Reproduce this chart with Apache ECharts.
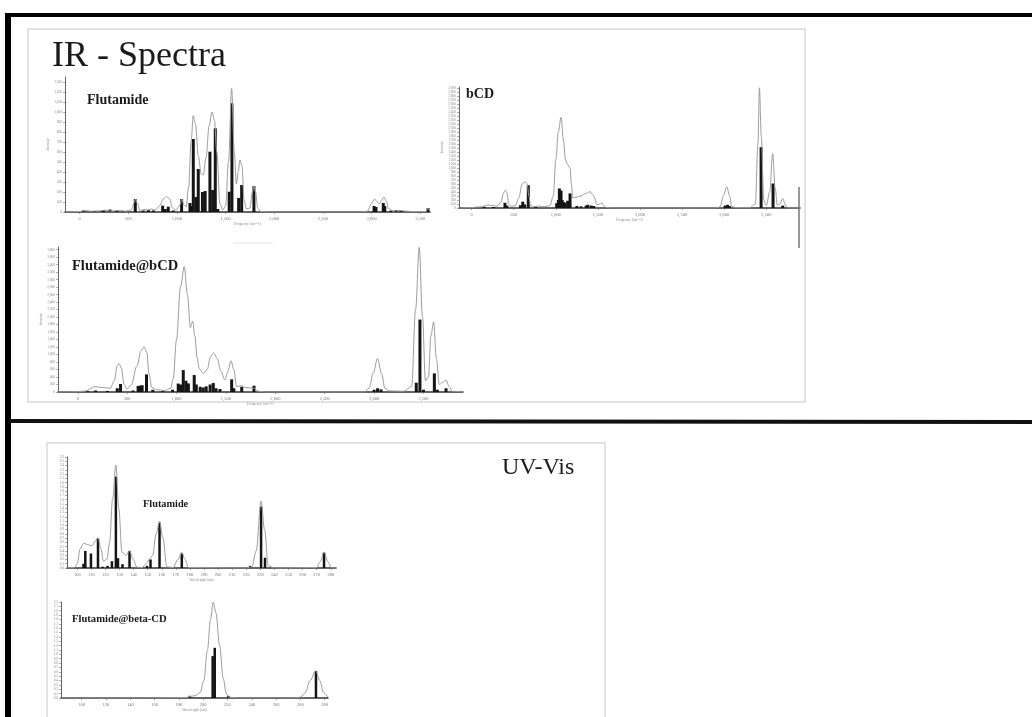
<!DOCTYPE html>
<html><head><meta charset="utf-8">
<script src="https://cdn.jsdelivr.net/npm/echarts@6/dist/echarts.min.js"></script>
<style>html,body{margin:0;padding:0;background:#fff;}#c{width:1032px;height:717px;}</style>
</head><body><div id="c"></div>
<script>
// ---------- tick labels ----------
const irXTicks = [0, 500, 1000, 1500, 2000, 2500, 3000, 3500];
const irXTickLabels = ['0', '500', '1,000', '1,500', '2,000', '2,500', '3,000', '3,500'];
const irFluYTicks = [0,100,200,300,400,500,600,700,800,900,1000,1100,1200,1300];
const bcdYTicks = [0,100,200,300,400,500,600,700,800,900,1000,1100,1200,1300,1400,1500,1600,1700,1800,1900,2000,2100,2200,2300,2400,2500,2600,2700,2800,2900,3000];
const fbYTicks = [0,200,400,600,800,1000,1200,1400,1600,1800,2000,2200,2400,2600,2800,3000,3200,3400,3600,3800];
const uvFluXTicks = [100,110,120,130,140,150,160,170,180,190,200,210,220,230,240,250,260,270,280];
const uvFluYTicks = [0,0.1,0.2,0.3,0.4,0.5,0.6,0.7,0.8,0.9,1,1.1,1.2,1.3,1.4,1.5,1.6,1.7,1.8,1.9,2,2.1,2.2,2.3,2.4,2.5,2.6];
const uvFbXTicks = [100,120,140,160,180,200,220,240,260,280,300];
const uvFbYTicks = [0,0.1,0.2,0.3,0.4,0.5,0.6,0.7,0.8,0.9,1,1.1,1.2,1.3,1.4,1.5,1.6,1.7,1.8,1.9,2,2.1,2.2];

// ---------- IR: Flutamide ----------
const irFluCurve = [[-150,0],[0,5],[60,15],[120,8],[200,12],[260,18],[320,10],[400,15],[470,8],[530,20],[560,90],[575,130],[592,90],[620,15],[660,25],[700,20],[740,30],[780,20],[820,60],[860,130],[895,155],[925,130],[955,40],[990,20],[1030,70],[1050,130],[1072,70],[1095,50],[1120,250],[1145,700],[1168,965],[1190,880],[1220,560],[1250,380],[1271,370],[1300,550],[1330,860],[1360,1000],[1385,920],[1410,600],[1442,80],[1470,20],[1500,60],[1530,500],[1562,1235],[1590,600],[1610,280],[1630,400],[1647,520],[1668,460],[1690,120],[1715,30],[1750,40],[1775,200],[1790,260],[1808,200],[1830,40],[1860,5],[1950,0],[2900,0],[2960,10],[2995,80],[3030,130],[3060,100],[3080,80],[3100,110],[3127,150],[3150,110],[3175,30],[3220,10],[3300,15],[3400,5],[3560,5],[3580,40],[3600,5]];
const irFluBars = [[40,15],[150,10],[243,20],[312,25],[381,15],[450,10],[572,130],[654,15],[706,20],[757,15],[853,63],[880,30],[911,53],[962,15],[1048,130],[1134,90],[1150,60],[1168,730],[1195,150],[1219,430],[1262,200],[1290,210],[1339,603],[1367,220],[1394,837],[1420,30],[1537,203],[1565,1087],[1634,140],[1665,270],[1791,260],[3025,60],[3045,50],[3120,90],[3135,60],[3200,15],[3250,20],[3300,10],[3580,40]];

// ---------- IR: bCD ----------
const bcdCurve = [[-150,0],[0,10],[100,30],[200,75],[260,60],[300,40],[350,150],[380,380],[400,446],[420,380],[440,100],[470,40],[520,60],[560,250],[600,600],[634,653],[660,600],[680,300],[700,60],[740,30],[800,50],[860,30],[930,60],[970,300],[1000,1200],[1030,1900],[1062,2265],[1090,1700],[1115,1200],[1140,1080],[1169,1000],[1185,600],[1200,250],[1240,270],[1300,300],[1350,360],[1406,405],[1450,300],[1490,80],[1520,100],[1545,130],[1570,60],[1600,10],[1700,0],[2900,0],[2950,30],[2990,300],[3030,530],[3065,300],[3090,40],[3130,10],[3300,5],[3370,100],[3400,1600],[3418,3000],[3440,1800],[3470,200],[3500,60],[3540,400],[3576,1356],[3605,500],[3630,80],[3660,100],[3695,240],[3725,80],[3760,0],[3900,0]];
const bcdBars = [[50,20],[150,30],[260,25],[396,130],[420,60],[580,70],[607,157],[630,90],[673,570],[760,30],[1010,120],[1030,200],[1042,488],[1055,300],[1062,435],[1075,200],[1090,150],[1110,130],[1140,180],[1169,364],[1250,50],[1300,40],[1360,60],[1380,80],[1420,60],[1450,50],[3010,60],[3040,80],[3060,50],[3438,1520],[3580,612],[3695,60]];

// ---------- IR: Flutamide@bCD ----------
const fbCurve = [[-200,0],[0,5],[80,30],[172,141],[250,120],[330,100],[370,300],[400,700],[419,760],[440,650],[470,200],[500,80],[540,180],[600,700],[640,1100],[672,1205],[700,1050],[720,500],[750,120],[800,60],[880,40],[940,100],[966,350],[1000,1400],[1040,2800],[1078,3350],[1110,2600],[1140,1720],[1163,1890],[1185,1500],[1210,900],[1230,620],[1270,500],[1310,600],[1345,950],[1375,1045],[1410,900],[1450,550],[1490,320],[1520,550],[1551,833],[1580,600],[1609,141],[1650,170],[1700,120],[1780,100],[1830,20],[1900,0],[2900,0],[2950,100],[2990,500],[3035,894],[3075,500],[3110,100],[3150,30],[3300,20],[3380,150],[3420,2200],[3457,3860],[3490,2000],[3520,300],[3550,400],[3575,1500],[3603,1870],[3630,900],[3660,200],[3690,250],[3728,320],[3760,150],[3790,20],[3900,0]];
const fbBars = [[100,20],[180,40],[300,30],[400,100],[433,213],[560,40],[611,160],[632,170],[652,180],[696,470],[760,60],[860,30],[960,60],[1017,226],[1040,200],[1068,585],[1095,300],[1120,230],[1179,452],[1200,200],[1240,140],[1270,120],[1300,150],[1340,200],[1372,239],[1400,100],[1440,80],[1558,338],[1580,100],[1660,140],[1784,168],[3000,60],[3035,100],[3070,70],[3427,248],[3464,1934],[3500,60],[3610,497],[3640,60],[3728,100]];

// ---------- UV: Flutamide ----------
const uvFluCurve = [[92.7,0],[98,0.01],[100,0.1],[102,0.45],[104.5,0.58],[107,0.55],[110.4,0.52],[112.5,0.62],[114.7,0.71],[116.8,0.45],[118.6,0.16],[121,0.2],[123,0.6],[125,1.6],[127.4,2.41],[129.5,1.4],[131.7,0.37],[134.5,0.3],[137.1,0.4],[139.7,0.2],[142.3,0.02],[146,0.01],[149,0.1],[151.8,0.23],[153.5,0.3],[156,0.8],[158.4,1.1],[160.8,0.7],[163.6,0.03],[168,0.01],[171.5,0.2],[174.2,0.37],[176.5,0.2],[178.9,0.01],[220,0],[224,0.03],[227,0.4],[230.5,1.57],[233,0.9],[235.6,0.05],[240,0],[270,0.01],[272.5,0.15],[275.2,0.38],[277.8,0.15],[280.5,0],[283.7,0]];
const uvFluBars = [[104.4,0.1],[105.7,0.4],[109.7,0.34],[114.7,0.69],[118,0.03],[121.5,0.05],[124.6,0.16],[127.4,2.14],[128.9,0.23],[132.1,0.09],[137.1,0.4],[145,0.02],[149.5,0.05],[152,0.2],[158.4,1.06],[174.2,0.34],[222.7,0.05],[230.5,1.44],[233.3,0.24],[275.2,0.36]];

// ---------- UV: Flutamide@beta-CD ----------
const uvFbCurve = [[83,0],[150,0],[185,0.01],[193,0.05],[197.4,0.12],[200.5,0.4],[203.5,1.1],[206,1.8],[208.3,2.2],[210.5,1.95],[213.5,1.2],[216.5,0.45],[219,0.1],[221,0.02],[230,0],[275,0],[280,0.02],[284,0.12],[288,0.4],[292.5,0.62],[296,0.4],[299,0.12],[302.7,0.02]];
const uvFbBars = [[189,0.05],[207.8,0.96],[209.5,1.15],[220.7,0.05],[292.8,0.62]];

// ---------- build ----------
const SERIF = '"Liberation Serif","DejaVu Serif",serif';
const grids = [
  {left: 65, top: 77, width: 365, height: 135},
  {left: 459, top: 87, width: 341, height: 121},
  {left: 58, top: 247, width: 405, height: 145},
  {left: 67, top: 457, width: 269, height: 111},
  {left: 61, top: 602, width: 267, height: 96}
];
function fmtNum(v) { return Math.abs(v) >= 1000 ? v.toLocaleString('en-US') : String(v); }
function xAx(i, min, max, ticks, labels, name) {
  return {
    type: 'value', gridIndex: i, min: min, max: max,
    name: name, nameLocation: 'middle', nameGap: 9,
    nameTextStyle: {fontSize: 3.5, color: '#888', fontFamily: SERIF},
    axisLine: {onZero: false, lineStyle: {color: '#333', width: 1.5}},
    axisTick: {show: true, length: 2, lineStyle: {color: '#666', width: 0.6}, customValues: ticks},
    axisLabel: {fontSize: 4.5, color: '#777', margin: 4, fontFamily: SERIF, customValues: ticks,
      formatter: function (v) { const k = ticks.indexOf(v); return labels ? (k >= 0 ? labels[k] : '') : fmtNum(v); }},
    splitLine: {show: false}
  };
}
function yAx(i, max, ticks, name, dec) {
  return {
    type: 'value', gridIndex: i, min: 0, max: max,
    name: name, nameLocation: 'middle', nameGap: 14, nameRotate: 90,
    nameTextStyle: {fontSize: 3.5, color: '#888', fontFamily: SERIF},
    axisLine: {show: true, onZero: false, lineStyle: {color: '#666', width: 1}},
    axisTick: {show: true, length: 2, lineStyle: {color: '#777', width: 0.6}, customValues: ticks},
    axisLabel: {fontSize: 3.5, color: '#888', margin: 3, fontFamily: SERIF, customValues: ticks,
      formatter: function (v) { return dec ? v.toFixed(dec) : fmtNum(v); }},
    splitLine: {show: false}
  };
}
function curve(i, data) {
  return {type: 'line', xAxisIndex: i, yAxisIndex: i, data: data, showSymbol: false, symbol: 'none',
    smooth: 0.35, smoothMonotone: 'x', z: 3,
    lineStyle: {color: '#9c9c9c', width: 1}};
}
function sticks(i, data, w) {
  return {type: 'bar', xAxisIndex: i, yAxisIndex: i, data: data, barWidth: w, z: 2,
    itemStyle: {color: '#151515'}};
}
function txt(x, y, s, size, bold, extra) {
  return Object.assign({type: 'text', x: x, y: y, z: 10,
    style: {text: s, fontSize: size, fontWeight: bold ? 'bold' : 'normal', fontFamily: SERIF, fill: '#1a1a1a', textVerticalAlign: 'middle'}}, extra || {});
}

const option = {
  animation: false,
  backgroundColor: '#ffffff',
  grid: grids,
  xAxis: [
    xAx(0, -150, 3600, irXTicks, irXTickLabels, 'Frequency (cm^-1)'),
    xAx(1, -150, 3900, irXTicks, irXTickLabels, 'Frequency (cm^-1)'),
    xAx(2, -200, 3900, irXTicks, irXTickLabels, 'Frequency (cm^-1)'),
    xAx(3, 92.7, 283.7, uvFluXTicks, null, 'Wavelength (nm)'),
    xAx(4, 83, 302.7, uvFbXTicks, null, 'Wavelength (nm)')
  ],
  yAxis: [
    yAx(0, 1350, irFluYTicks, 'Intensity', 0),
    yAx(1, 3020, bcdYTicks, 'Intensity', 0),
    yAx(2, 3870, fbYTicks, 'Intensity', 0),
    yAx(3, 2.6, uvFluYTicks, '', 1),
    yAx(4, 2.2, uvFbYTicks, '', 1)
  ],
  series: [
    sticks(0, irFluBars, 3), curve(0, irFluCurve),
    sticks(1, bcdBars, 3), curve(1, bcdCurve),
    sticks(2, fbBars, 3), curve(2, fbCurve),
    sticks(3, uvFluBars, 2.5), curve(3, uvFluCurve),
    sticks(4, uvFbBars, 2.5), curve(4, uvFbCurve)
  ],
  graphic: [
    // slide frames
    {type: 'rect', shape: {x: 28, y: 29, width: 777, height: 373}, style: {fill: 'none', stroke: '#d9d9d9', lineWidth: 1.5}, z: 0},
    {type: 'rect', shape: {x: 47, y: 443, width: 558, height: 290}, style: {fill: 'none', stroke: '#d9d9d9', lineWidth: 1.5}, z: 0},
    // black borders
    {type: 'rect', shape: {x: 5, y: 13, width: 1027, height: 4}, style: {fill: '#000'}, z: 20},
    {type: 'rect', shape: {x: 5, y: 13, width: 6, height: 704}, style: {fill: '#000'}, z: 20},
    {type: 'line', shape: {x1: 11, y1: 421, x2: 1032, y2: 422}, style: {stroke: '#111', lineWidth: 4}, z: 20},
    // stray marks
    {type: 'line', shape: {x1: 799, y1: 187, x2: 799, y2: 248}, style: {stroke: '#777', lineWidth: 1.5}, z: 5},
    {type: 'line', shape: {x1: 233, y1: 243, x2: 273, y2: 243}, style: {stroke: '#e2e2e2', lineWidth: 1}, z: 5},
    // titles
    txt(52, 57, 'IR - Spectra', 36, false),
    txt(502, 468, 'UV-Vis', 24, false),
    // chart labels
    txt(87, 100, 'Flutamide', 14, true),
    txt(466, 94, 'bCD', 14, true),
    txt(72, 266, 'Flutamide@bCD', 14.5, true),
    txt(143, 504, 'Flutamide', 10.3, true),
    txt(72, 619, 'Flutamide@beta-CD', 10.6, true)
  ]
};
const chart = echarts.init(document.getElementById('c'), null, {renderer: 'canvas'});
chart.setOption(option);
</script>
</body></html>
